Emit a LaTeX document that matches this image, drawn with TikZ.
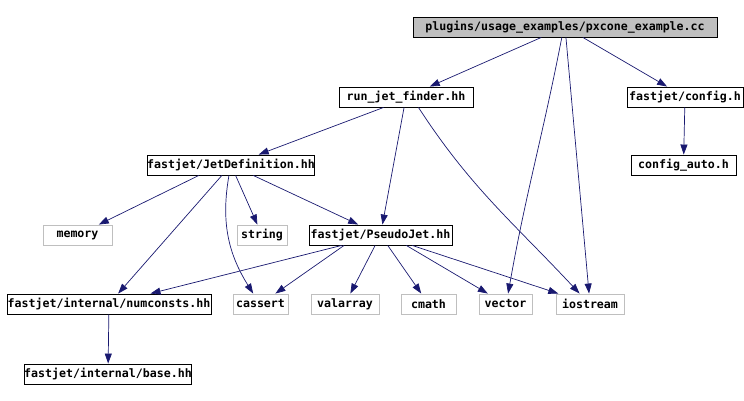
\documentclass[tikz,border=0pt]{standalone}
\usepackage{fontspec}
\setmonofont{DejaVu Sans Mono}
\usetikzlibrary{arrows.meta}
\definecolor{midnight}{HTML}{191970}
\definecolor{boxgrey}{HTML}{BFBFBF}

\begin{document}
\begin{tikzpicture}[
    x=1pt, y=-1pt,
    hdr/.style={draw=black, fill=white, line width=0.9pt, minimum height=20pt, inner sep=0pt,
      font=\ttfamily\bfseries\fontsize{11.6}{12}\selectfont},
    rootfile/.style={hdr, fill=boxgrey},
    syshdr/.style={hdr, draw=boxgrey},
    dep/.style={draw=midnight, line width=0.7pt, -{Triangle[length=10pt,width=7pt]}}
  ]
  \useasboundingbox (0,0) rectangle (744,401);

  % files of the graph
  \node[rootfile, minimum width=304] (root) at (565,27) {plugins/usage\_examples/pxcone\_example.cc};
  \node[hdr, minimum width=134] (runjet) at (406,97) {run\_jet\_finder.hh};
  \node[hdr, minimum width=116] (config) at (685,97) {fastjet/config.h};
  \node[hdr, minimum width=105] (configauto) at (683.5,165) {config\_auto.h};
  \node[hdr, minimum width=164] (jetdef) at (231,165) {fastjet/JetDefinition.hh};
  \node[syshdr, minimum width=69] (memory) at (77.5,235) {memory};
  \node[syshdr, minimum width=50] (string) at (262,235) {string};
  \node[hdr, minimum width=143] (pseudojet) at (380.5,235) {fastjet/PseudoJet.hh};
  \node[hdr, minimum width=204] (numconsts) at (109,304) {fastjet/internal/numconsts.hh};
  \node[syshdr, minimum width=55] (cassert) at (260.5,304) {cassert};
  \node[syshdr, minimum width=68] (valarray) at (345,304) {valarray};
  \node[syshdr, minimum width=55] (cmath) at (428.5,304) {cmath};
  \node[syshdr, minimum width=53] (vector) at (505.5,304) {vector};
  \node[syshdr, minimum width=68] (iostream) at (590,304) {iostream};
  \node[hdr, minimum width=162] (base) at (108,374) {fastjet/internal/base.hh};

  % includes
  \draw[dep] (root) -- (runjet);
  \draw[dep] (root.-107) to[out=-101,in=80] (vector.76);
  \draw[dep] (root) -- (iostream);
  \draw[dep] (root) -- (config);
  \draw[dep] (runjet.-155) -- (jetdef);
  \draw[dep] (runjet) -- (pseudojet);
  \draw[dep] (runjet.-40) to[out=-57,in=133] (iostream.135);
  \draw[dep] (config) -- (configauto);
  \draw[dep] (jetdef.-162) -- (memory);
  \draw[dep] (jetdef) -- (numconsts);
  \draw[dep] (jetdef.-101) to[out=-100,in=122] (cassert.125);
  \draw[dep] (jetdef) -- (string);
  \draw[dep] (jetdef) -- (pseudojet);
  \draw[dep] (pseudojet.-165) -- (numconsts);
  \draw[dep] (pseudojet.-164) -- (cassert);
  \draw[dep] (pseudojet) -- (valarray);
  \draw[dep] (pseudojet) -- (cmath);
  \draw[dep] (pseudojet.-22) -- (vector);
  \draw[dep] (pseudojet) -- (iostream);
  \draw[dep] (numconsts) -- (base);

\end{tikzpicture}
\end{document}
